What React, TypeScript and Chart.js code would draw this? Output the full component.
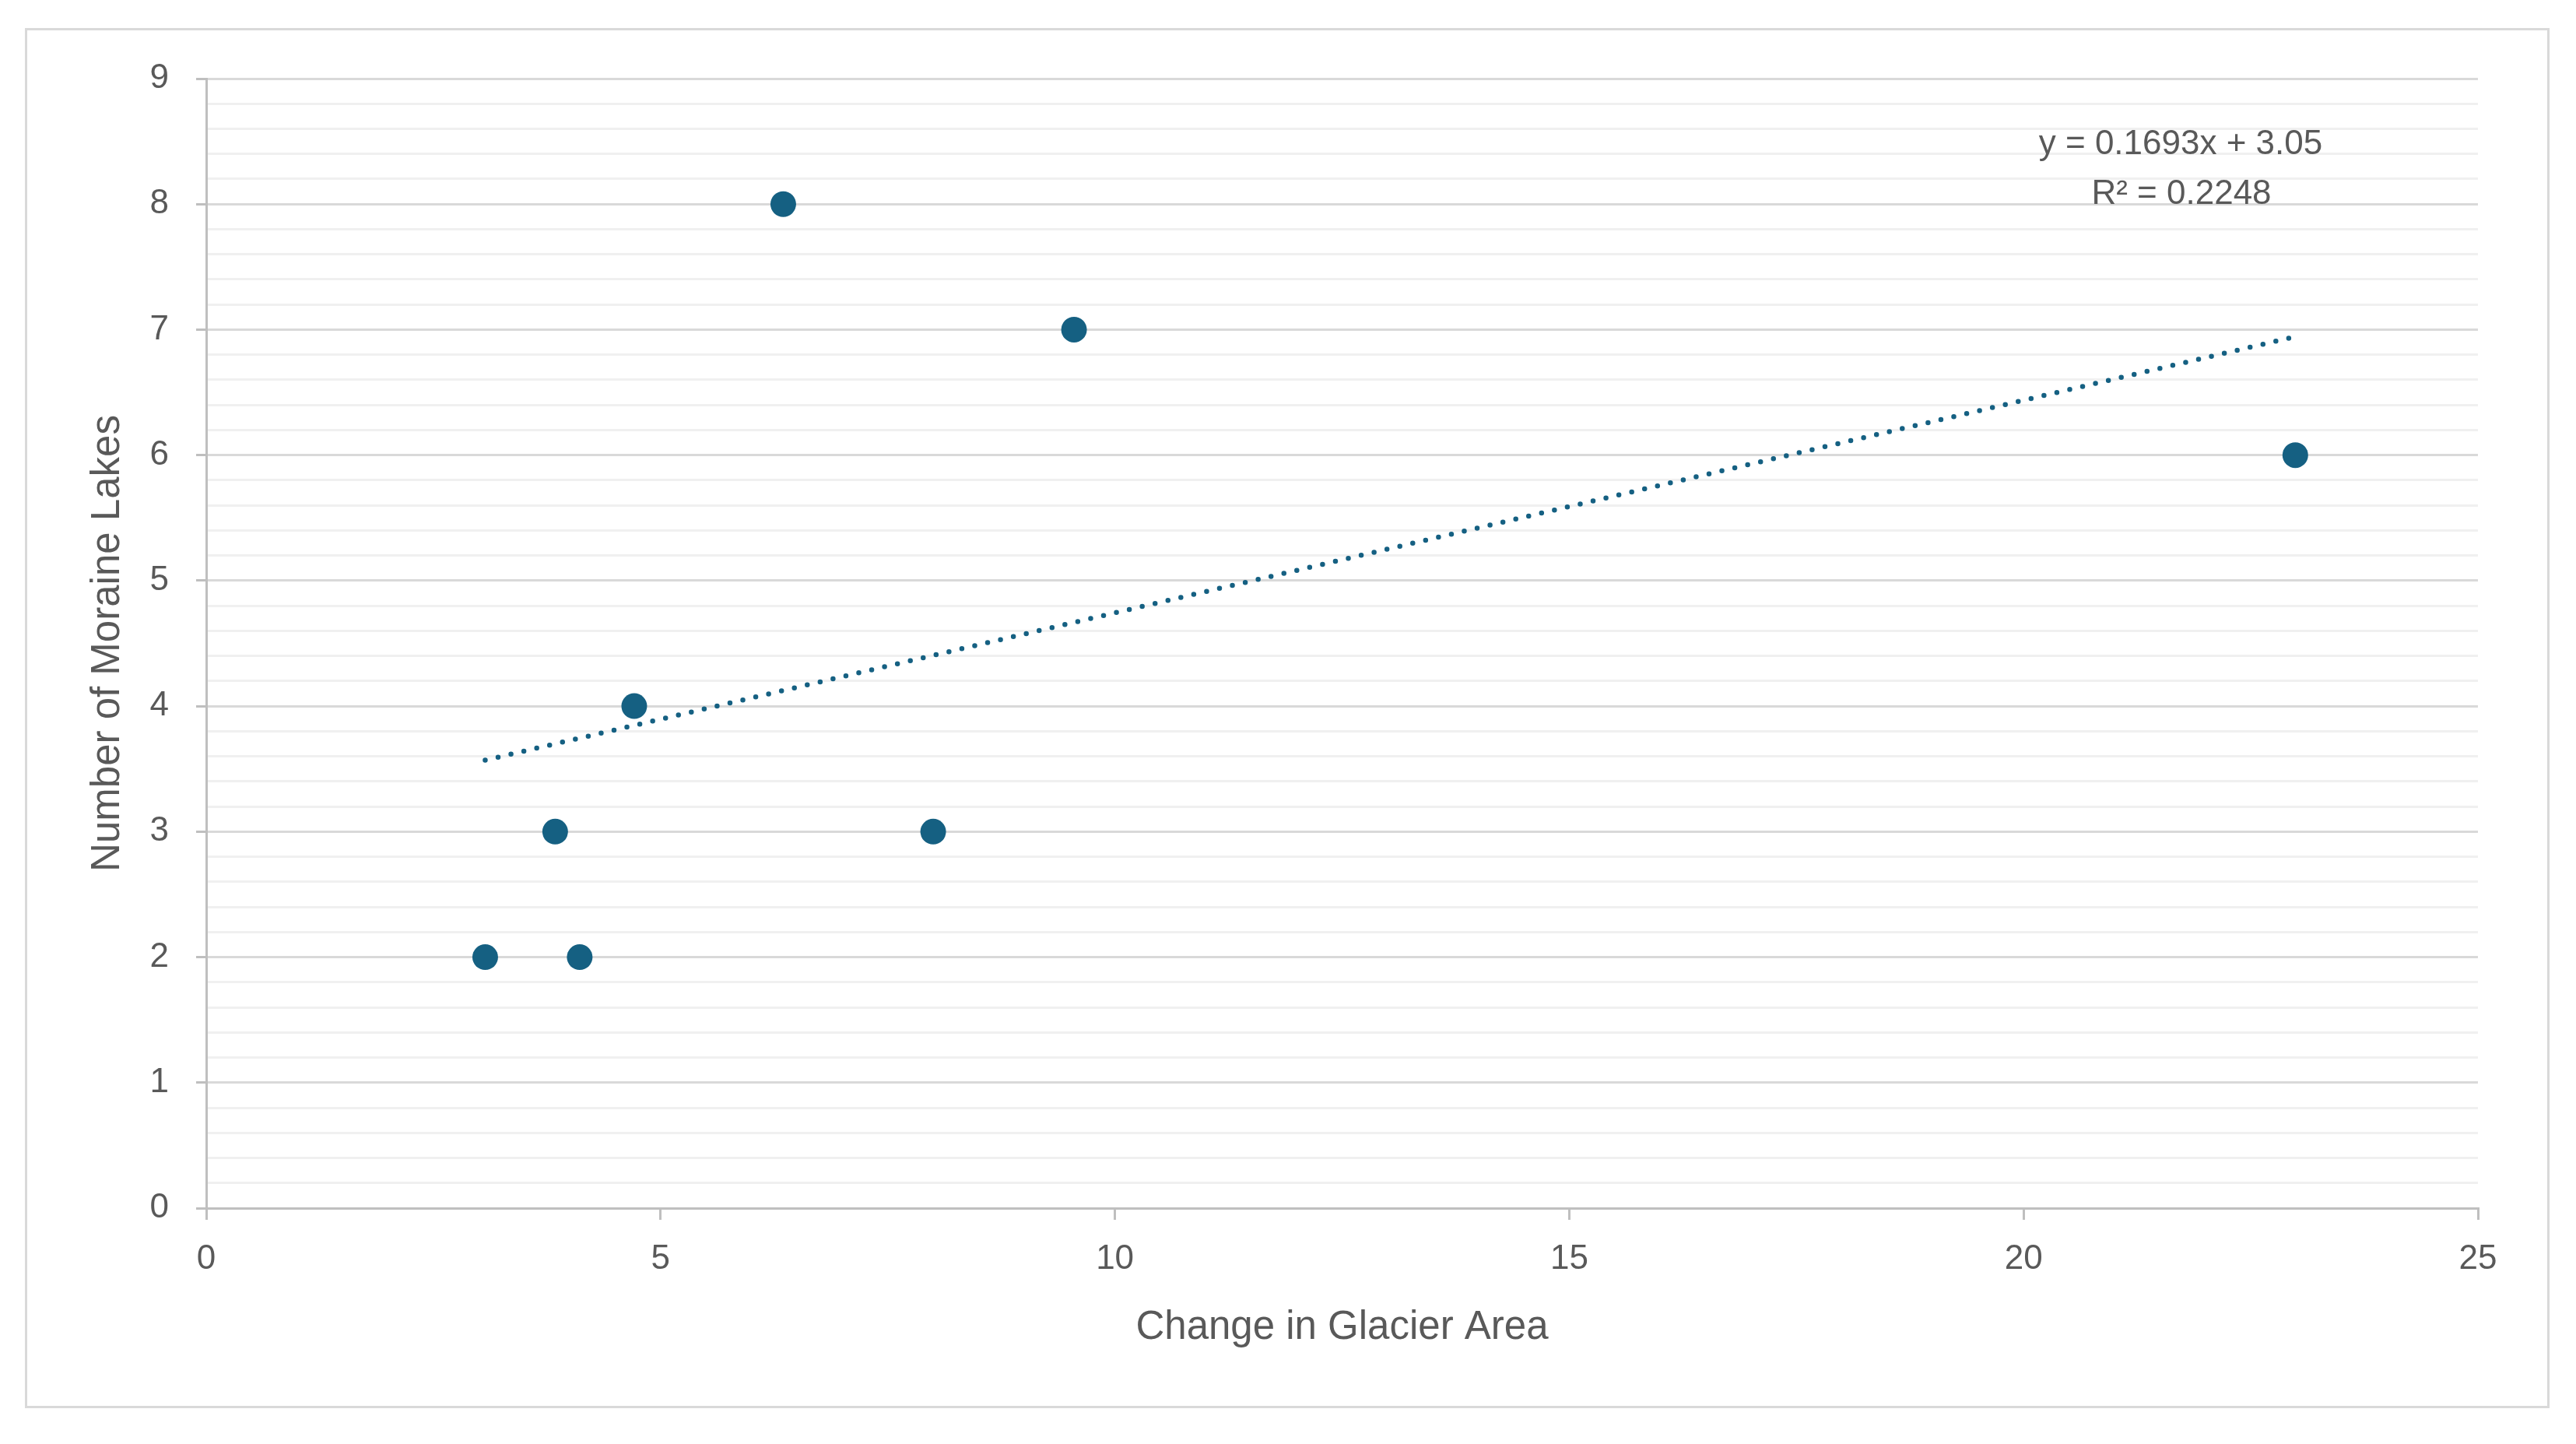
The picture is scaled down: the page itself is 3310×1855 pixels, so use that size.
import React, { useEffect, useRef } from "react";
import { Chart, registerables } from "chart.js";

Chart.register(...registerables);

const glacierAreaChange = [3.07, 3.84, 4.11, 4.71, 6.35, 8.0, 9.55, 22.99];
const moraineLakes = [2, 3, 2, 4, 8, 3, 7, 6];
const xAxisTitle = "Change in Glacier Area";
const yAxisTitle = "Number of Moraine Lakes";
const equationLines = ["y = 0.1693x + 3.05", "R² = 0.2248"];

const W = 3310;
const H = 1855;
const FONT = "'Liberation Sans', Arial, sans-serif";
const TEXT = "#595959";
const SERIES = "#156082";

function regression(xs: number[], ys: number[]) {
  const n = xs.length;
  const mx = xs.reduce((a, b) => a + b, 0) / n;
  const my = ys.reduce((a, b) => a + b, 0) / n;
  let sxy = 0;
  let sxx = 0;
  for (let i = 0; i < n; i++) {
    sxy += (xs[i] - mx) * (ys[i] - my);
    sxx += (xs[i] - mx) * (xs[i] - mx);
  }
  const slope = sxy / sxx;
  return { slope, intercept: my - slope * mx };
}

const isMajor = (v: number) => Math.abs(v - Math.round(v)) < 1e-6;

export default function App() {
  const ref = useRef<HTMLCanvasElement | null>(null);

  useEffect(() => {
    if (!ref.current) return;
    const { slope, intercept } = regression(glacierAreaChange, moraineLakes);
    const xMin = Math.min(...glacierAreaChange);
    const xMax = Math.max(...glacierAreaChange);
    const trend = [
      { x: xMin, y: slope * xMin + intercept },
      { x: xMax, y: slope * xMax + intercept },
    ];
    const points = glacierAreaChange.map((x, i) => ({ x, y: moraineLakes[i] }));

    const decor = {
      id: "decor",
      beforeDraw(chart: any) {
        const ctx = chart.ctx;
        ctx.save();
        ctx.fillStyle = "#ffffff";
        ctx.fillRect(0, 0, W, H);
        ctx.strokeStyle = "#d9d9d9";
        ctx.lineWidth = 3;
        ctx.strokeRect(33.5, 37.5, 3241, 1770);
        ctx.restore();
      },
      afterDraw(chart: any) {
        const ctx = chart.ctx;
        ctx.save();
        ctx.fillStyle = TEXT;
        ctx.font = `44px ${FONT}`;
        ctx.textAlign = "center";
        ctx.textBaseline = "middle";
        ctx.fillText(equationLines[0], 2802, 186);
        ctx.fillText(equationLines[1], 2803, 250);
        ctx.restore();
      },
    };

    const chart = new Chart(ref.current, {
      type: "scatter",
      data: {
        datasets: [
          {
            type: "line",
            label: "Linear trend",
            data: trend,
            borderColor: SERIES,
            borderWidth: 6.5,
            borderDash: [0, 17],
            borderCapStyle: "round",
            pointRadius: 0,
            fill: false,
            order: 0,
          } as any,
          {
            label: "Lakes",
            data: points,
            backgroundColor: SERIES,
            borderColor: SERIES,
            borderWidth: 0,
            pointRadius: 16.5,
            pointHoverRadius: 16.5,
            order: 1,
          },
        ],
      },
      options: {
        responsive: false,
        animation: false,
        devicePixelRatio: 1,
        layout: { padding: { left: 0, right: W - 3184, top: 101, bottom: 0 } },
        plugins: { legend: { display: false }, tooltip: { enabled: false } },
        scales: {
          x: {
            type: "linear",
            min: 0,
            max: 25,
            ticks: {
              stepSize: 5,
              color: TEXT,
              font: { family: FONT, size: 44 },
              padding: 24,
              maxRotation: 0,
            },
            grid: {
              drawOnChartArea: false,
              drawTicks: true,
              tickLength: 15,
              tickColor: "#bfbfbf",
              tickWidth: 3,
              lineWidth: 3,
            },
            border: { color: "#bfbfbf", width: 3 },
            title: {
              display: true,
              text: xAxisTitle,
              color: TEXT,
              font: { family: FONT, size: 51 },
              padding: { top: 0, bottom: 118 },
            },
            afterFit: (s: any) => {
              s.height = H - 1552;
            },
          },
          y: {
            type: "linear",
            min: 0,
            max: 9,
            ticks: {
              stepSize: 0.2,
              autoSkip: false,
              color: TEXT,
              font: { family: FONT, size: 44 },
              padding: 35,
              callback: (v: any) => (isMajor(Number(v)) ? String(Math.round(Number(v))) : ""),
            },
            grid: {
              drawTicks: true,
              tickLength: 13,
              lineWidth: 3,
              tickWidth: 3,
              color: (c: any) => (isMajor(c.tick?.value ?? 0) ? "#d9d9d9" : "#f0f0f0"),
              tickColor: (c: any) => (isMajor(c.tick?.value ?? 0) ? "#bfbfbf" : "rgba(0,0,0,0)"),
            },
            border: { color: "#bfbfbf", width: 3 },
            title: {
              display: true,
              text: yAxisTitle,
              color: TEXT,
              font: { family: FONT, size: 51 },
              padding: { top: 108, bottom: 0 },
            },
            afterFit: (s: any) => {
              s.width = 265;
            },
          },
        },
      },
      plugins: [decor],
    } as any);

    return () => chart.destroy();
  }, []);

  return (
    <div style={{ position: "fixed", left: 0, top: 0, width: W, height: H, background: "#fff" }}>
      <canvas ref={ref} width={W} height={H} style={{ display: "block", width: W, height: H }} />
    </div>
  );
}
